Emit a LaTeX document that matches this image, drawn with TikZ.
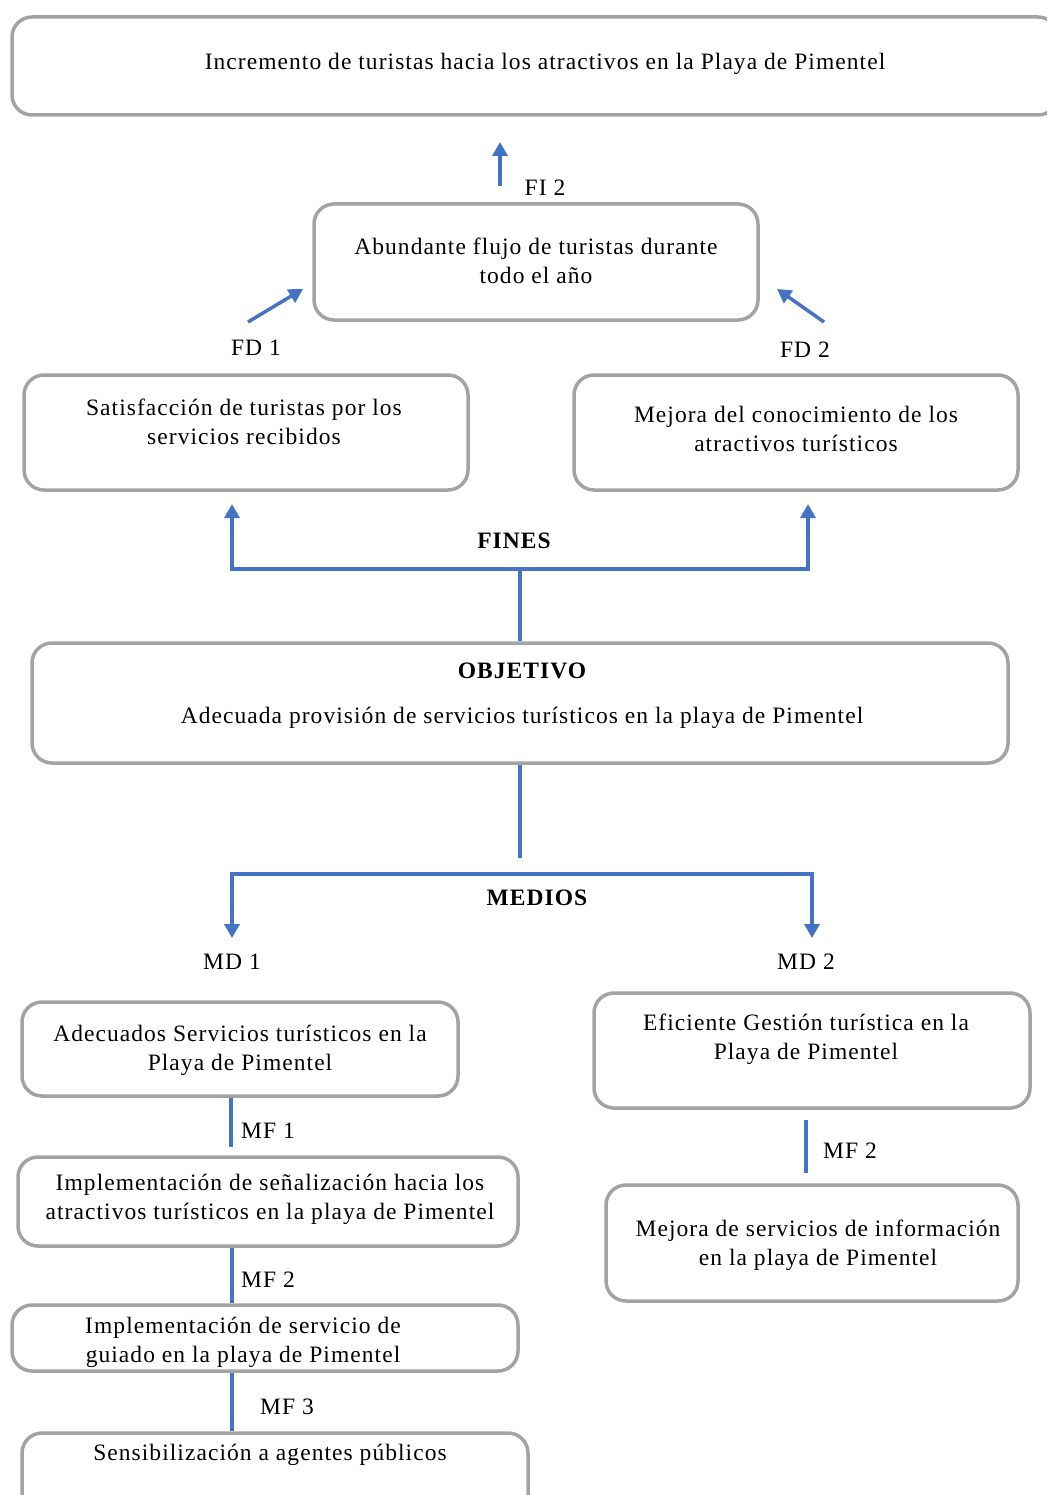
\documentclass[tikz,border=0pt]{standalone}
\usepackage{fontspec}
\setmainfont{Liberation Serif}[LetterSpace=4.5]
\usetikzlibrary{arrows.meta}
\definecolor{boxgray}{RGB}{163,163,163}
\definecolor{linkblue}{RGB}{68,114,196}
\tikzset{
  box/.style={draw=boxgray, line width=3.5pt, rounded corners=20pt, fill=none, inner sep=0pt},
  txt/.style={align=center, inner sep=0pt, font=\fontsize{23.5}{29}\selectfont, text=black},
  lbl/.style={inner sep=0pt, font=\fontsize{23.5}{29}\selectfont, text=black},
  blbl/.style={inner sep=0pt, font=\fontsize{23.5}{29}\selectfont\bfseries, text=black},
  conn/.style={draw=linkblue, line width=3.5pt},
  arr/.style={conn, -{Triangle[length=14pt,width=15pt]}}
}
\begin{document}
\begin{tikzpicture}[x=1pt,y=-1pt]
\useasboundingbox (0,0) rectangle (1047,1495);
\clip (0,0) rectangle (1047,1495);
% boxes
\node[box, minimum width=1046pt, minimum height=98pt] (top) at (535,66) {};
\node[box, minimum width=444pt, minimum height=116pt] (abund) at (536,262) {};
\node[box, minimum width=444pt, minimum height=115pt] (sat) at (246,432.5) {};
\node[box, minimum width=444pt, minimum height=115pt] (mejc) at (796,432.5) {};
\node[box, minimum width=976pt, minimum height=120pt] (obj) at (520,703) {};
\node[box, minimum width=436pt, minimum height=94pt] (adec) at (240,1049) {};
\node[box, minimum width=436pt, minimum height=115pt] (efic) at (812,1050.5) {};
\node[box, minimum width=500pt, minimum height=89pt] (senal) at (268,1201.5) {};
\node[box, minimum width=506pt, minimum height=66pt] (guiado) at (265,1338) {};
\node[box, minimum width=506pt, minimum height=85pt] (sens) at (275,1475.5) {};
\node[box, minimum width=412pt, minimum height=116pt] (mejs) at (812,1243) {};
% texts
\node[txt] (ttop) at (545,64) {Incremento de turistas hacia los atractivos en la Playa de Pimentel};
\node[txt] (tabund) at (536,261) {Abundante flujo de turistas durante\\todo el año};
\node[txt] (tsat) at (244,422) {Satisfacción de turistas por los\\servicios recibidos};
\node[txt] (tmejc) at (796,429) {Mejora del conocimiento de los\\atractivos turísticos};
\node[blbl] (tobj) at (522,671) {OBJETIVO};
\node[txt] (tobj2) at (522,718) {Adecuada provisión de servicios turísticos en la playa de Pimentel};
\node[txt] (tadec) at (240,1050) {Adecuados Servicios turísticos en la\\Playa de Pimentel};
\node[txt] (tefic) at (806,1039) {Eficiente Gestión turística en la\\Playa de Pimentel};
\node[txt] (tsenal) at (270,1199) {Implementación de señalización hacia los\\atractivos turísticos en la playa de Pimentel};
\node[txt] (tguiado) at (243,1342) {Implementación de servicio de\\guiado en la playa de Pimentel};
\node[txt] (tsens) at (270,1455) {Sensibilización a agentes públicos};
\node[txt] (tmejs) at (818,1245) {Mejora de servicios de información\\en la playa de Pimentel};
% labels
\node[lbl] (lfi2) at (545,188) {FI 2};
\node[lbl] (lfd1) at (256,348) {FD 1};
\node[lbl] (lfd2) at (805,350) {FD 2};
\node[blbl] (lfines) at (514,541) {FINES};
\node[blbl] (lmedios) at (537,898) {MEDIOS};
\node[lbl] (lmd1) at (232,962) {MD 1};
\node[lbl] (lmd2) at (806,962) {MD 2};
\node[lbl] (lmf1) at (268,1131) {MF 1};
\node[lbl] (lmf2) at (268,1280) {MF 2};
\node[lbl] (lmf3) at (287,1407) {MF 3};
\node[lbl] (lmf2r) at (850,1151) {MF 2};
% coordinates
\coordinate (fi2a) at (500,186);
\coordinate (fi2b) at (500,142);
\coordinate (fd1a) at (248,322);
\coordinate (fd1b) at (303,289);
\coordinate (fd2a) at (824,322);
\coordinate (fd2b) at (777,289);
\coordinate (fj) at (520,569);
\coordinate (fla) at (232,504);
\coordinate (fra) at (808,504);
\coordinate (mtop) at (520,858);
\coordinate (mj) at (520,874);
\coordinate (mla) at (232,938);
\coordinate (mra) at (812,938);
\coordinate (mf1a) at (231,1098);
\coordinate (mf1b) at (231,1147);
\coordinate (mf2x) at (232,0);
\coordinate (mf2ra) at (806,1120);
\coordinate (mf2rb) at (806,1173);
% connectors
\draw[arr] (fi2a) -- (fi2b);
\draw[arr] (fd1a) -- (fd1b);
\draw[arr] (fd2a) -- (fd2b);
\draw[conn] (obj.north) -- (fj);
\draw[arr] (fj) -| (fla);
\draw[arr] (fj) -| (fra);
\draw[conn] (obj.south) -- (mtop);
\draw[arr] (mj) -| (mla);
\draw[arr] (mj) -| (mra);
\draw[conn] (mf1a) -- (mf1b);
\draw[conn] (senal.south -| mf2x) -- (guiado.north -| mf2x);
\draw[conn] (guiado.south -| mf2x) -- (sens.north -| mf2x);
\draw[conn] (mf2ra) -- (mf2rb);
\end{tikzpicture}
\end{document}
